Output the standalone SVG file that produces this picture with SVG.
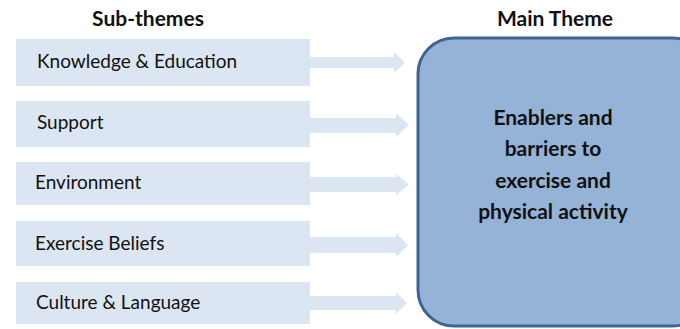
<svg xmlns="http://www.w3.org/2000/svg" width="680" height="329" viewBox="0 0 680 329">
<style>
.sub{fill:#dce6f2}
.arr{fill:#dce6f2}
.t{font-family:Lato,"Open Sans","Liberation Sans",sans-serif;font-size:19px;fill:#111}
.h{font-family:Lato,"Open Sans","Liberation Sans",sans-serif;font-size:21px;font-weight:bold;fill:#111;text-anchor:middle}
.m{font-family:Lato,"Open Sans","Liberation Sans",sans-serif;font-size:21px;font-weight:bold;fill:#111;text-anchor:middle}
</style>
<rect width="680" height="329" fill="#fff"/>
<text class="h" x="148" y="26">Sub-themes</text>
<text class="h" x="555" y="26">Main Theme</text>
<g id="connectors">
<polygon class="arr" points="310,57 394,57 394,52 405,62.5 394,73 394,68 310,68"/>
<polygon class="arr" points="310,118 396,118 396,113 409,125 396,137 396,133 310,133"/>
<polygon class="arr" points="310,177 396,177 396,174 409,184.5 396,195 396,192 310,192"/>
<polygon class="arr" points="310,237 396,237 396,233 408,245 396,257 396,253 310,253"/>
<polygon class="arr" points="310,296 396,296 396,292 407,303 396,314 396,310 310,310"/>
</g>
<g id="n1"><rect class="sub" x="16" y="39" width="294" height="47"/><text class="t" x="37" y="68">Knowledge &amp; Education</text></g>
<g id="n2"><rect class="sub" x="16" y="101" width="294" height="46"/><text class="t" x="37" y="129">Support</text></g>
<g id="n3"><rect class="sub" x="16" y="162" width="294" height="43"/><text class="t" x="35" y="189">Environment</text></g>
<g id="n4"><rect class="sub" x="16" y="221" width="294" height="45"/><text class="t" x="35" y="250">Exercise Beliefs</text></g>
<g id="n5"><rect class="sub" x="16" y="282" width="294" height="42"/><text class="t" x="36" y="309">Culture &amp; Language</text></g>
<g id="main">
<rect x="418" y="38" width="290" height="288" rx="36" ry="36" fill="#95b3d7" stroke="#3e6494" stroke-width="3"/>
<text class="m" x="553" y="125">Enablers and</text>
<text class="m" x="553" y="156">barriers to</text>
<text class="m" x="553" y="188">exercise and</text>
<text class="m" x="553" y="219">physical activity</text>
</g>
</svg>
